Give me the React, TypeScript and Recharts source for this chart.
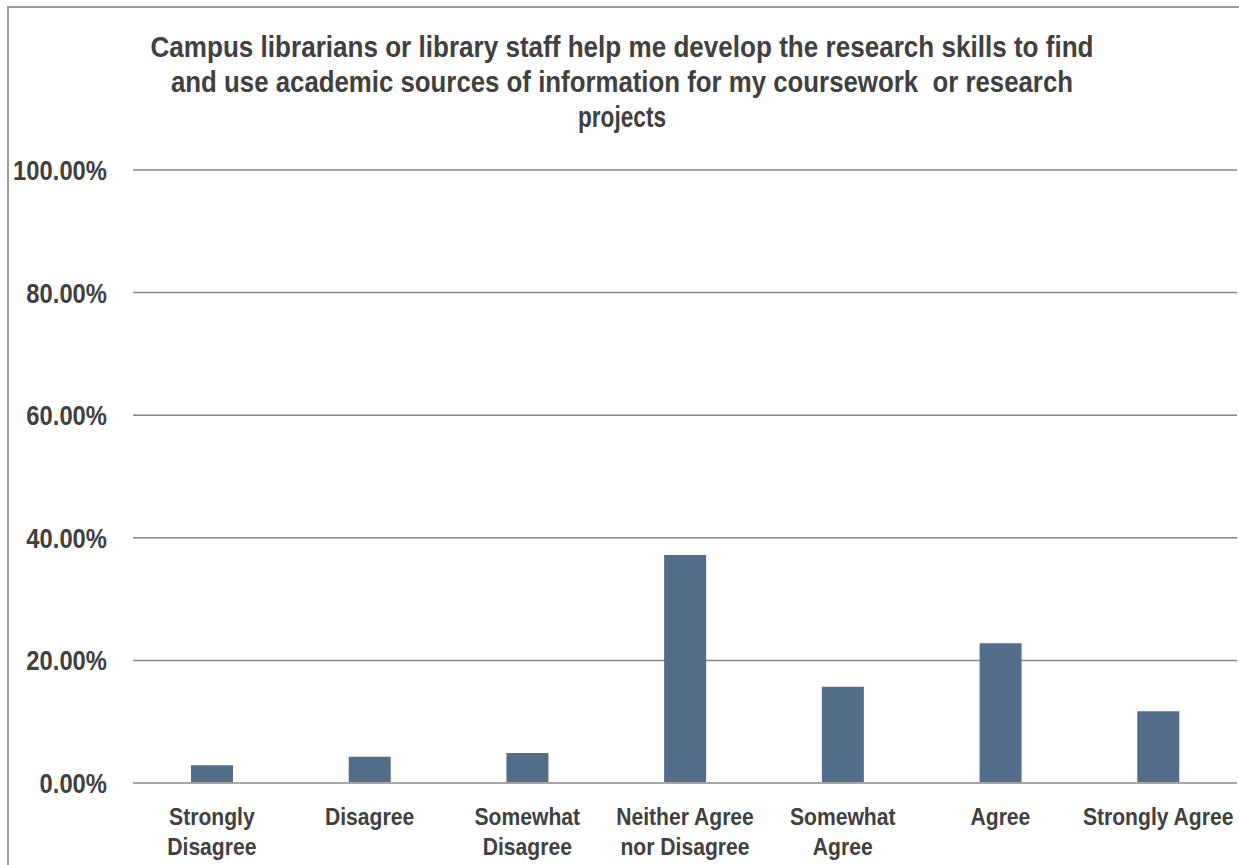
import React from "react";
import { BarChart, Bar, XAxis, YAxis, CartesianGrid } from "recharts";

const categories = [
  "Strongly Disagree",
  "Disagree",
  "Somewhat Disagree",
  "Neither Agree nor Disagree",
  "Somewhat Agree",
  "Agree",
  "Strongly Agree",
];
const tickLines: string[][] = [
  ["Strongly", "Disagree"],
  ["Disagree"],
  ["Somewhat", "Disagree"],
  ["Neither Agree", "nor Disagree"],
  ["Somewhat", "Agree"],
  ["Agree"],
  ["Strongly Agree"],
];
const values = [2.9, 4.3, 4.9, 37.2, 15.7, 22.8, 11.7];
const yTicks = [0, 20, 40, 60, 80, 100];
const titleLines = [
  "Campus librarians or library staff help me develop the research skills to find",
  "and use academic sources of information for my coursework  or research",
  "projects",
];
const titleWidths = [943, 902, 88];

const data = categories.map((c, i) => ({ name: c, value: values[i] }));

const FONT = "'Liberation Sans', Arial, sans-serif";
const TEXT = "#404040";

const XTick = (props: any) => {
  const { x, y, index } = props;
  const lines = tickLines[index] || [props.payload.value];
  return (
    <g transform={`translate(${x},${y}) scale(0.88,1)`}>
      {lines.map((l, i) => (
        <text
          key={i}
          x={0}
          y={42 + i * 30}
          textAnchor="middle"
          fill={TEXT}
          fontFamily={FONT}
          fontWeight="bold"
          fontSize={24}
        >
          {l}
        </text>
      ))}
    </g>
  );
};

const YTick = (props: any) => {
  const { x, y, payload } = props;
  return (
    <g transform={`translate(${x},${y}) scale(0.85,1)`}>
      <text
        x={0}
        y={0}
        dy="0.36em"
        textAnchor="end"
        fill={TEXT}
        fontFamily={FONT}
        fontWeight="bold"
        fontSize={28}
      >
        {Number(payload.value).toFixed(2) + "%"}
      </text>
    </g>
  );
};

export default function App() {
  return (
    <div
      style={{
        position: "fixed",
        left: 7,
        top: 6,
        width: 1230,
        height: 857,
        borderTop: "2px solid #9a9a9a",
        borderLeft: "2px solid #9a9a9a",
        background: "#fff",
      }}
    >
      <BarChart
        width={1230}
        height={857}
        data={data}
        margin={{ top: 162, right: 2, left: 0, bottom: 0 }}
        barCategoryGap={0}
      >
        <CartesianGrid vertical={false} stroke="#868686" strokeWidth={1.5} />
        <XAxis
          dataKey="name"
          height={82}
          tickLine={false}
          tickSize={0}
          tickMargin={0}
          axisLine={{ stroke: "#a6a6a6", strokeWidth: 2 }}
          interval={0}
          tick={<XTick />}
        />
        <YAxis
          width={124}
          domain={[0, 100]}
          ticks={yTicks}
          tickLine={false}
          axisLine={false}
          tickSize={0}
          tickMargin={26}
          tick={<YTick />}
        />
        <Bar dataKey="value" fill="#536d8a" barSize={42} isAnimationActive={false} />
      </BarChart>
      <svg
        width={1230}
        height={150}
        style={{ position: "absolute", left: 0, top: 0, pointerEvents: "none" }}
      >
        {titleLines.map((t, i) => (
          <text
            key={i}
            x={613}
            y={49 + i * 35}
            textAnchor="middle"
            fill={TEXT}
            fontFamily={FONT}
            fontWeight="bold"
            fontSize={29}
            textLength={titleWidths[i]}
            lengthAdjust="spacingAndGlyphs"
            style={{ whiteSpace: "pre" }}
          >
            {t}
          </text>
        ))}
      </svg>
    </div>
  );
}
